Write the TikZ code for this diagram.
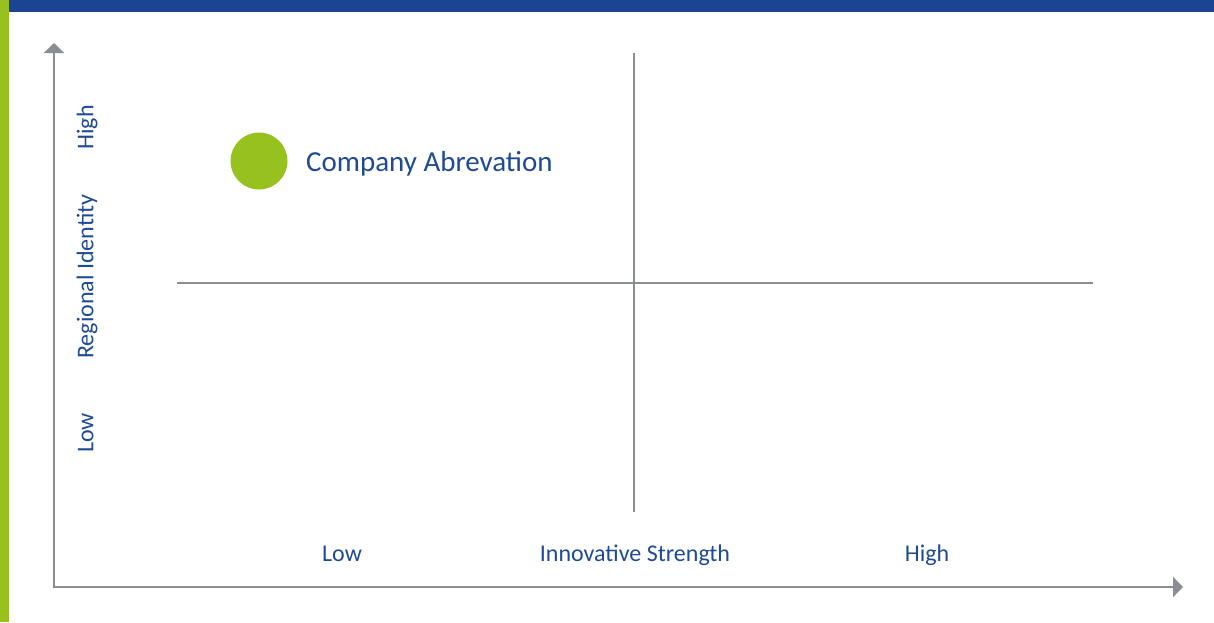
\documentclass[tikz,border=0pt]{standalone}
\usepackage{fontspec}
\setmainfont{Carlito}
\usetikzlibrary{arrows.meta}
\definecolor{barblue}{HTML}{1B4593}
\definecolor{bargreen}{HTML}{97C11F}
\definecolor{axisgrey}{HTML}{8A8E92}
\definecolor{txtblue}{HTML}{1F4A94}
\tikzset{
  axisline/.style={draw=axisgrey, line width=2.6pt, -{Triangle[length=10pt,width=20pt]}},
  quadline/.style={draw=axisgrey, line width=2pt},
  lbl/.style={text=txtblue, inner sep=0pt, anchor=base, font=\fontsize{24}{28}\selectfont},
  bigl/.style={text=txtblue, inner sep=0pt, anchor=base west, font=\fontsize{29}{34}\selectfont},
  dot/.style={circle, fill=bargreen, draw=none, minimum size=57pt, inner sep=0pt}
}
\begin{document}
\begin{tikzpicture}[x=1pt,y=-1pt]
\useasboundingbox (0,0) rectangle (1214,622);
\fill[white] (0,0) rectangle (1214,622);
% bars
\fill[barblue] (9,0) rectangle (1214,11.5);
\fill[bargreen] (0,0) rectangle (9,622);
% axes
\coordinate (origin) at (54,587);
\coordinate (ytop) at (54,43);
\coordinate (xright) at (1183,587);
\draw[axisline] ([yshift=-1.3pt]origin) -- (ytop);
\draw[axisline] (origin) -- (xright);
% quadrant lines
\coordinate (vtop) at (634.3,53);
\coordinate (vbot) at (634.3,512);
\coordinate (hl) at (177,282.7);
\coordinate (hr) at (1093,282.7);
\draw[quadline] (vtop) -- (vbot);
\draw[quadline] (hl) -- (hr);
% y labels
\node[lbl, rotate=90] (yhigh) at (93.3,127.5) {High};
\node[lbl, rotate=90] (ytitle) at (93.3,276.5) {Regional Identity};
\node[lbl, rotate=90] (ylow) at (93.3,433) {Low};
% x labels
\node[lbl] (xlow) at (342,561) {Low};
\node[lbl] (xtitle) at (635,561) {Innovative Strength};
\node[lbl] (xhigh) at (927,561) {High};
% company
\node[dot] (comp) at (259,161) {};
\node[bigl] (complbl) at (306,171.7) {Company Abrevation};
\end{tikzpicture}
\end{document}
